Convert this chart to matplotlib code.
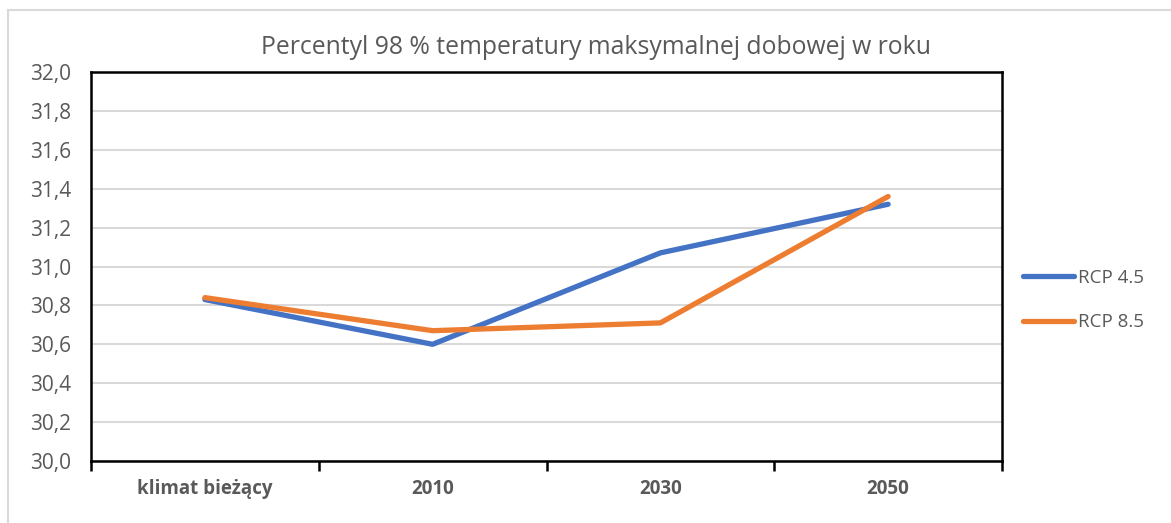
import matplotlib.pyplot as plt
from matplotlib.patches import Rectangle
import numpy as np

categories = ['klimat bieżący', '2010', '2030', '2050']
rcp45 = [30.83, 30.60, 31.07, 31.32]
rcp85 = [30.84, 30.67, 30.71, 31.36]
yticks = [30.0, 30.2, 30.4, 30.6, 30.8, 31.0, 31.2, 31.4, 31.6, 31.8, 32.0]

plt.rcParams['font.family'] = ['Open Sans', 'DejaVu Sans']
grey = '#595959'

fig = plt.figure(figsize=(11.71, 5.23), dpi=100)
ax = fig.add_axes([91 / 1171, 1 - 461 / 523, 911 / 1171, 389 / 523])

# outer chart-area border
fig.patches.append(Rectangle((8 / 1171, -0.1), 1.2, 1 - 10 / 523 + 0.1,
                             transform=fig.transFigure, fill=False,
                             ec='#d9d9d9', lw=1.5))

x = np.arange(len(categories))
ax.plot(x, rcp45, color='#4472C4', lw=3.8, solid_capstyle='round', label='RCP 4.5', zorder=3)
ax.plot(x, rcp85, color='#ED7D31', lw=3.8, solid_capstyle='round', label='RCP 8.5', zorder=4)

ax.set_xlim(-0.5, len(categories) - 0.5)
ax.set_ylim(30.0, 32.0)
ax.set_yticks(yticks)
ax.set_yticklabels([f"{v:.1f}".replace('.', ',') for v in yticks], color=grey, fontsize=15)
ax.tick_params(axis='y', length=0, pad=14)
ax.yaxis.grid(True, color='#d9d9d9', lw=1.5)
ax.set_axisbelow(True)

ax.set_xticks(x)
ax.set_xticklabels(categories, color=grey, fontsize=13.5, fontweight='bold')
ax.tick_params(axis='x', which='major', length=0, pad=13)
ax.set_xticks(np.arange(-0.5, len(categories)), minor=True)
ax.tick_params(axis='x', which='minor', length=7, width=1.8, color='black')

for s in ax.spines.values():
    s.set_color('black')
    s.set_linewidth(1.8)

fig.text(596 / 1171, 1 - 48 / 523, 'Percentyl 98 % temperatury maksymalnej dobowej w roku',
         ha='center', va='center', fontsize=17.8, color=grey)

ax.legend(loc='center left', bbox_to_anchor=(1.005, 0.414), frameon=False,
          fontsize=13.5, labelcolor=grey, handlelength=2.7, handletextpad=0.2,
          labelspacing=1.4)

fig.savefig('out.png', dpi=100)
